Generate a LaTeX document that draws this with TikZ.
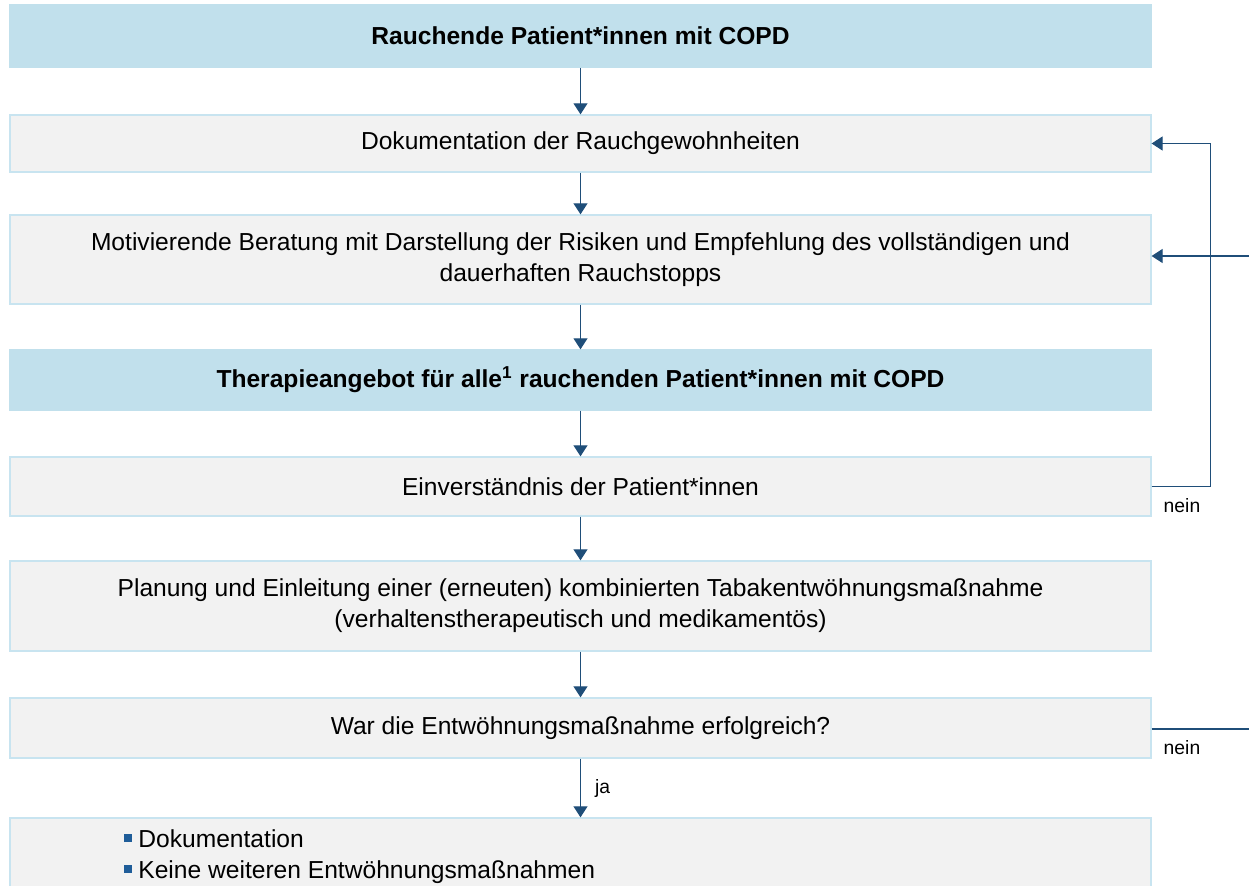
\documentclass[tikz,border=0pt]{standalone}
\usepackage{fontspec}
\setmainfont{Liberation Sans}
\usepackage{tikz}
\usetikzlibrary{arrows.meta,positioning}
\usepackage{xcolor}
\definecolor{headblue}{RGB}{193,224,236}
\definecolor{edgeblue}{RGB}{200,228,240}
\definecolor{boxgray}{RGB}{242,242,242}
\definecolor{flowblue}{RGB}{31,78,121}
\definecolor{bulletblue}{RGB}{31,93,153}
\tikzset{
  stepbox/.style={draw=edgeblue,fill=boxgray,line width=0.8pt,minimum width=22.82cm,
    align=center,inner sep=0pt,font=\fontsize{14}{17.6}\selectfont},
  headbox/.style={stepbox,draw=headblue,fill=headblue,font=\fontsize{14}{17.6}\selectfont\bfseries},
  mainflow/.style={-{Triangle[length=2.2mm,width=2.8mm]},line width=0.6pt,draw=flowblue},
  backflow/.style={line width=0.6pt,draw=flowblue},
  flowlabel/.style={font=\fontsize{11}{12}\selectfont,inner sep=0pt}
}
\newcommand{\sqbullet}{\textcolor{bulletblue}{\rule[0.45ex]{4.5pt}{4.5pt}}}
\begin{document}
\begin{tikzpicture}[x=0.02cm,y=-0.02cm]
  \useasboundingbox (0,0) rectangle (1249,886);
  % boxes
  \node[headbox,minimum height=1.24cm] (patients) at (580.5,36) {Rauchende Patient*innen mit COPD};
  \node[stepbox,minimum height=1.14cm] (doku) at (580.5,143.5) {Dokumentation der Rauchgewohnheiten};
  \node[stepbox,minimum height=1.78cm] (beratung) at (580.5,259.5)
    {Motivierende Beratung mit Darstellung der Risiken und Empfehlung des vollständigen und\\dauerhaften Rauchstopps};
  \node[headbox,minimum height=1.2cm] (angebot) at (580.5,380)
    {Therapieangebot für alle\textsuperscript{1} rauchenden Patient*innen mit COPD};
  \node[stepbox,minimum height=1.18cm] (einverst) at (580.5,486.5) {Einverständnis der Patient*innen};
  \node[stepbox,minimum height=1.8cm] (planung) at (580.5,606)
    {Planung und Einleitung einer (erneuten) kombinierten Tabakentwöhnungsmaßnahme\\(verhaltenstherapeutisch und medikamentös)};
  \node[stepbox,minimum height=1.2cm] (erfolg) at (580.5,728) {War die Entwöhnungsmaßnahme erfolgreich?};
  \node[stepbox,minimum height=1.68cm] (ende) at (580.5,860) {};
  \node[anchor=west,align=left,inner sep=0pt,font=\fontsize{14}{17.6}\selectfont] (endlist) at (124,857)
    {\sqbullet\hspace{3.5pt}Dokumentation\\\sqbullet\hspace{3.5pt}Keine weiteren Entwöhnungsmaßnahmen};
  % main flow
  \draw[mainflow] (patients) -- (doku);
  \draw[mainflow] (doku) -- (beratung);
  \draw[mainflow] (beratung) -- (angebot);
  \draw[mainflow] (angebot) -- (einverst);
  \draw[mainflow] (einverst) -- (planung);
  \draw[mainflow] (planung) -- (erfolg);
  \draw[mainflow] (erfolg) -- node[flowlabel,right=8pt]{ja} (ende);
  % back loops
  \coordinate (loopin) at (1249,256);
  \coordinate (loopout) at (1249,729);
  \draw[mainflow] (einverst.east) -- ++(59,0) |- (doku.east);
  \draw[mainflow] (loopin) -- (beratung.east |- loopin);
  \draw[backflow] (erfolg.east |- loopout) -- (loopout);
  \node[flowlabel] (nein1) at (1182,506) {nein};
  \node[flowlabel] (nein2) at (1182,748) {nein};
\end{tikzpicture}
\end{document}
